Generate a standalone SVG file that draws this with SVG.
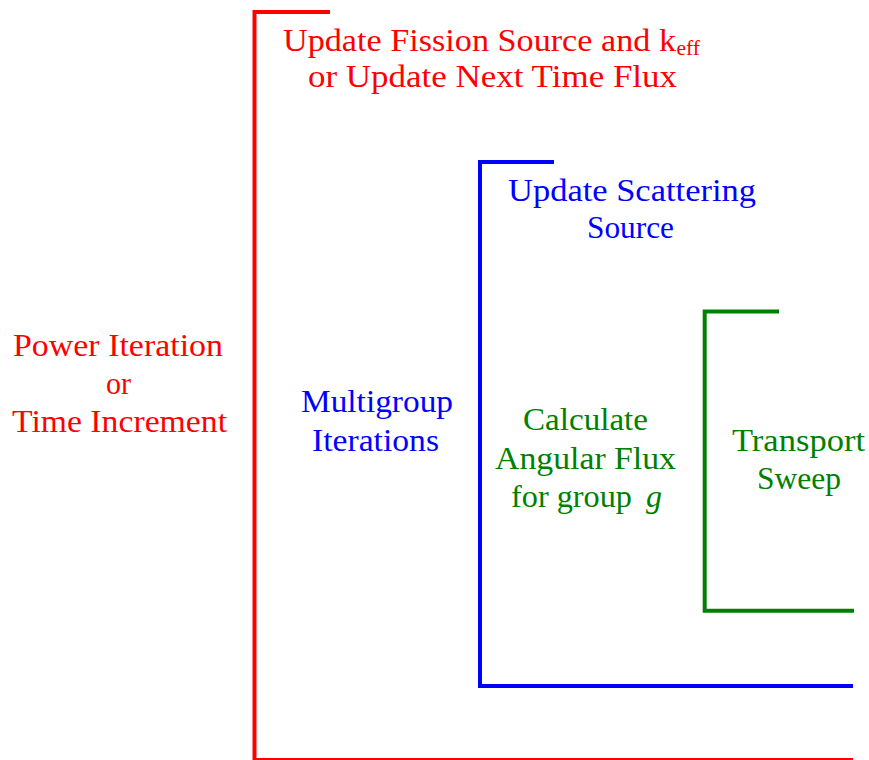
<svg xmlns="http://www.w3.org/2000/svg" width="869" height="760" viewBox="0 0 869 760">
<style>
text{font-family:"Liberation Serif","Times New Roman",serif;font-size:31px}
.r{fill:#ff0000}.b{fill:#0000ff}.g{fill:#008000}
.br{fill:none;stroke-width:4;stroke-linecap:butt;stroke-linejoin:miter}
</style>
<rect width="869" height="760" fill="#ffffff"/>
<g id="connectors">
<path class="br" stroke="#ff0000" d="M330,12 H254.5 V760 H853"/>
<path class="br" stroke="#0000ff" d="M554,162 H480 V686 H853"/>
<path class="br" stroke="#008000" d="M779,311.5 H704.7 V610.7 H854"/>
</g>
<g id="fission-update">
<text class="r"><tspan x="283" y="51" textLength="393" lengthAdjust="spacingAndGlyphs">Update Fission Source and k</tspan><tspan x="676.5" y="54.5" font-size="21" textLength="23.5" lengthAdjust="spacingAndGlyphs">eff</tspan></text>
<text class="r" x="308" y="87" textLength="369" lengthAdjust="spacingAndGlyphs">or Update Next Time Flux</text>
</g>
<g id="power-iteration">
<text class="r" x="13" y="356" textLength="210" lengthAdjust="spacingAndGlyphs">Power Iteration</text>
<text class="r" x="106" y="393.5" textLength="25" lengthAdjust="spacingAndGlyphs">or</text>
<text class="r" x="12" y="431.5" textLength="215" lengthAdjust="spacingAndGlyphs">Time Increment</text>
</g>
<g id="scattering-update">
<text class="b" x="508" y="200.5" textLength="248" lengthAdjust="spacingAndGlyphs">Update Scattering</text>
<text class="b" x="587" y="237.5" textLength="87" lengthAdjust="spacingAndGlyphs">Source</text>
</g>
<g id="multigroup">
<text class="b" x="301" y="411.7" textLength="152" lengthAdjust="spacingAndGlyphs">Multigroup</text>
<text class="b" x="312" y="450.5" textLength="127" lengthAdjust="spacingAndGlyphs">Iterations</text>
</g>
<g id="angular-flux">
<text class="g" x="523" y="430" textLength="125" lengthAdjust="spacingAndGlyphs">Calculate</text>
<text class="g" x="495" y="468.5" textLength="181" lengthAdjust="spacingAndGlyphs">Angular Flux</text>
<text class="g"><tspan x="511" y="506.5" textLength="121" lengthAdjust="spacingAndGlyphs">for group</tspan><tspan x="646" y="506.5" font-style="italic" textLength="16" lengthAdjust="spacingAndGlyphs">g</tspan></text>
</g>
<g id="transport-sweep">
<text class="g" x="732" y="450.7" textLength="133" lengthAdjust="spacingAndGlyphs">Transport</text>
<text class="g" x="757" y="488.5" textLength="84" lengthAdjust="spacingAndGlyphs">Sweep</text>
</g>
</svg>
